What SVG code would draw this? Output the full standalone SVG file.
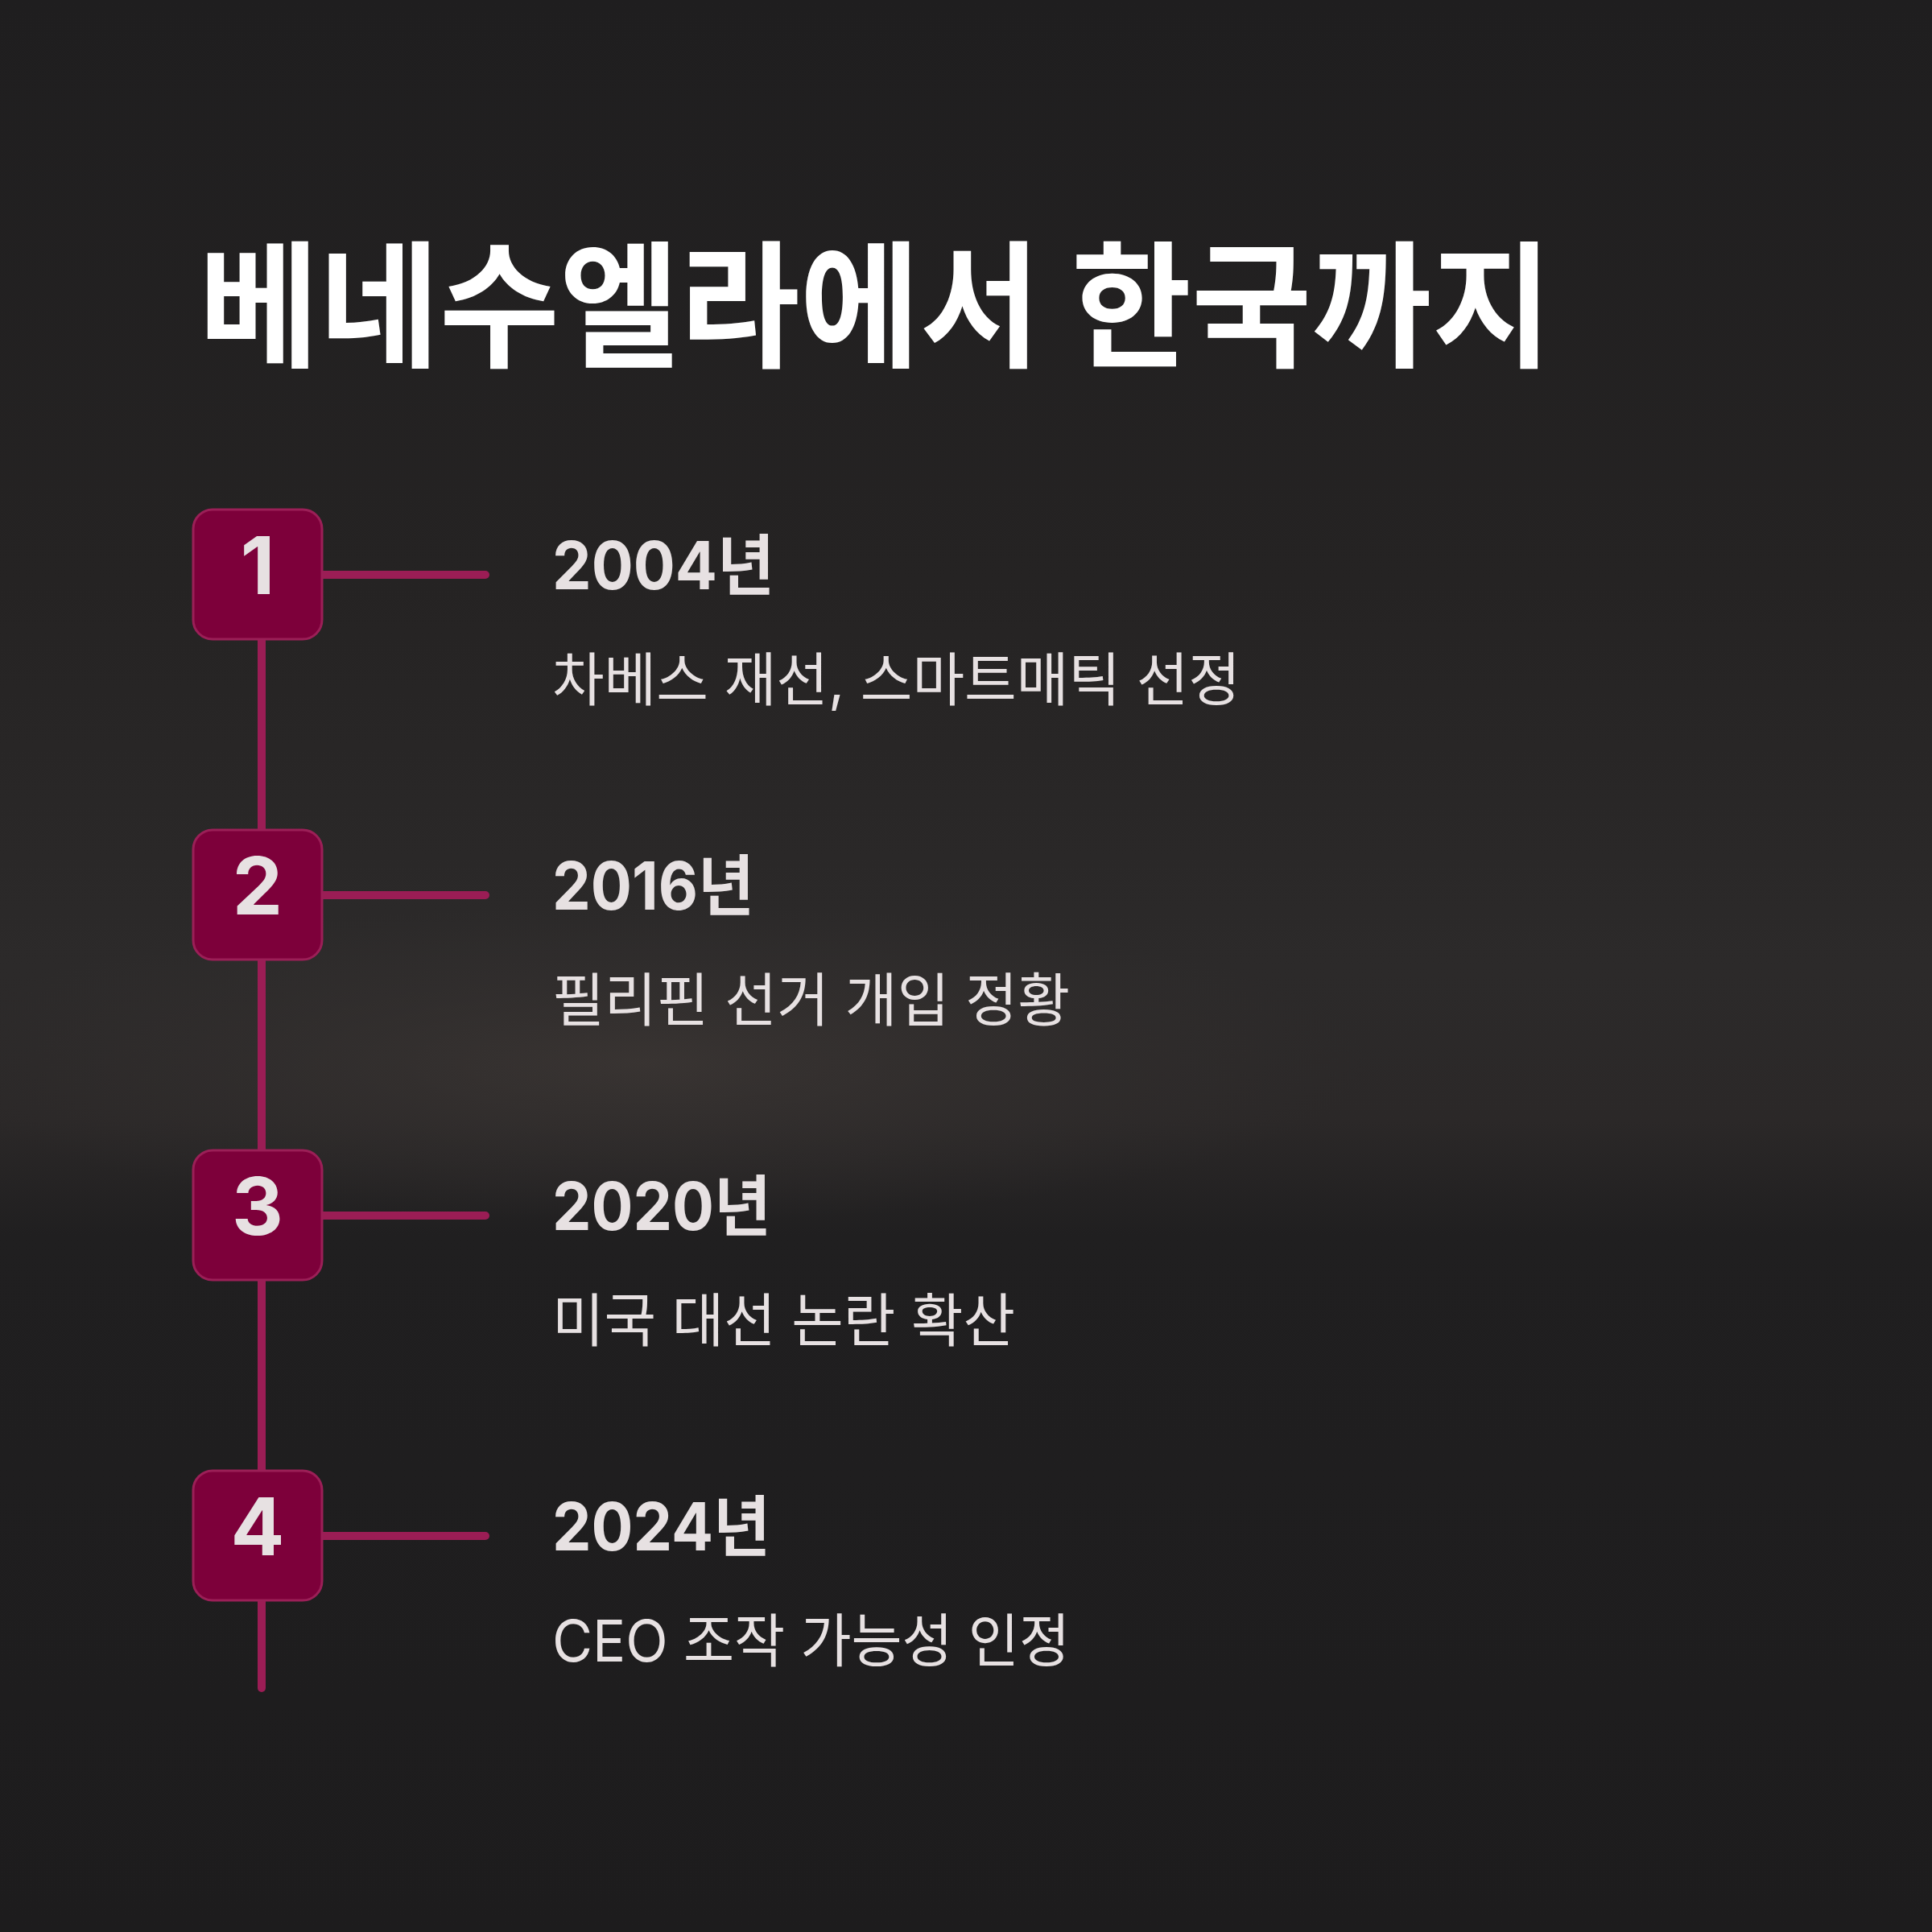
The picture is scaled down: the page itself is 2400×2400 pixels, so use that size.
<svg xmlns="http://www.w3.org/2000/svg" width="2400" height="2400" viewBox="0 0 2400 2400">
<style>
.title{font-family:"Inter","Noto Sans CJK KR",sans-serif;font-weight:700;font-size:170px;fill:#ffffff}
.year{font-family:"Inter","Noto Sans CJK KR",sans-serif;font-weight:700;font-size:82px;fill:#e7e1e2}
.desc{font-family:"Inter","Noto Sans CJK KR",sans-serif;font-weight:400;font-size:72px;fill:#e7e1e2}
.num{font-family:"Inter","Noto Sans CJK KR",sans-serif;font-weight:700;font-size:99px;fill:#e7e1e2;text-anchor:middle}
.box{fill:#7d003a;stroke:#9b1f57;stroke-width:3}
.conn{stroke:#9b1d55;stroke-width:10;stroke-linecap:round;fill:none}
</style>
<defs>
<linearGradient id="bg" x1="0" y1="0" x2="0" y2="1">
<stop offset="0" stop-color="#1f1e1f"/>
<stop offset="0.3" stop-color="#252323"/>
<stop offset="0.5" stop-color="#2c2a2a"/>
<stop offset="0.58" stop-color="#2b2828"/>
<stop offset="0.64" stop-color="#201f20"/>
<stop offset="1" stop-color="#1d1c1d"/>
</linearGradient>
<radialGradient id="glow" cx="800" cy="1320" r="900" gradientUnits="userSpaceOnUse" gradientTransform="translate(800 1320) scale(1 0.22) translate(-800 -1320)">
<stop offset="0" stop-color="#3a3533" stop-opacity="0.9"/>
<stop offset="0.6" stop-color="#353130" stop-opacity="0.4"/>
<stop offset="1" stop-color="#353130" stop-opacity="0"/>
</radialGradient>
</defs>
<rect x="0" y="0" width="2400" height="2400" fill="url(#bg)"/>
<rect x="0" y="0" width="2400" height="2400" fill="url(#glow)"/>

<text class="title" x="247" y="443" textLength="1681" lengthAdjust="spacingAndGlyphs">베네수엘라에서 한국까지</text>

<g id="connectors">
<line class="conn" x1="325" y1="714" x2="325" y2="2097"/>
<line class="conn" x1="400" y1="714" x2="603" y2="714"/>
<line class="conn" x1="400" y1="1112" x2="603" y2="1112"/>
<line class="conn" x1="400" y1="1510" x2="603" y2="1510"/>
<line class="conn" x1="400" y1="1908" x2="603" y2="1908"/>
</g>

<g id="node1">
<rect class="box" x="240" y="633" width="160" height="161" rx="24"/>
<text class="num" x="320" y="738">1</text>
<text class="year" x="686" y="732" textLength="276" lengthAdjust="spacingAndGlyphs">2004년</text>
<text class="desc" x="686" y="870" textLength="855" lengthAdjust="spacingAndGlyphs">차베스 재선, 스마트매틱 선정</text>
</g>
<g id="node2">
<rect class="box" x="240" y="1031" width="160" height="161" rx="24"/>
<text class="num" x="320" y="1136">2</text>
<text class="year" x="686" y="1130" textLength="251" lengthAdjust="spacingAndGlyphs">2016년</text>
<text class="desc" x="686" y="1268" textLength="643" lengthAdjust="spacingAndGlyphs">필리핀 선거 개입 정황</text>
</g>
<g id="node3">
<rect class="box" x="240" y="1429" width="160" height="161" rx="24"/>
<text class="num" x="320" y="1534">3</text>
<text class="year" x="686" y="1528" textLength="272" lengthAdjust="spacingAndGlyphs">2020년</text>
<text class="desc" x="686" y="1666" textLength="575" lengthAdjust="spacingAndGlyphs">미국 대선 논란 확산</text>
</g>
<g id="node4">
<rect class="box" x="240" y="1827" width="160" height="161" rx="24"/>
<text class="num" x="320" y="1932">4</text>
<text class="year" x="686" y="1926" textLength="271" lengthAdjust="spacingAndGlyphs">2024년</text>
<text class="desc" x="686" y="2064" textLength="643" lengthAdjust="spacingAndGlyphs">CEO 조작 가능성 인정</text>
</g>
</svg>
